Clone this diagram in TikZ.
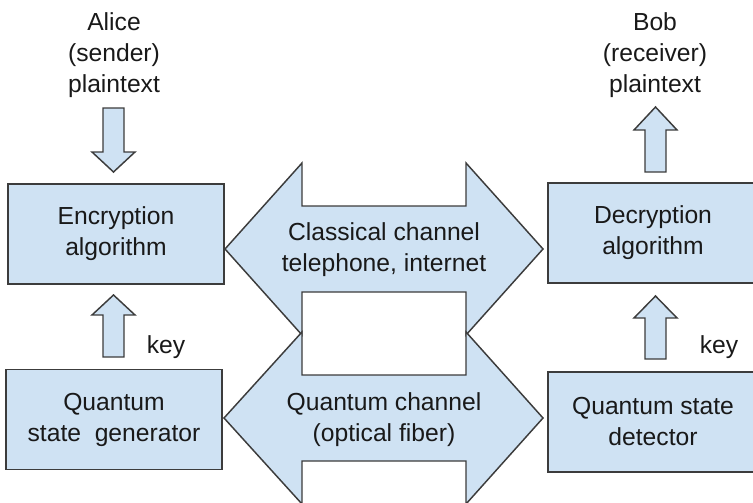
\documentclass[tikz,border=0pt]{standalone}
\usepackage{fontspec}
\setmainfont{Liberation Sans}
\definecolor{boxblue}{HTML}{CFE2F3}
\definecolor{edgegray}{HTML}{3C3C3C}
\tikzset{
  txt/.style={align=center, inner sep=0pt, text=black!90,
    font=\fontsize{18.5}{23.25}\selectfont},
  box/.style={txt, draw=edgegray, fill=boxblue, line width=1.1pt,
    minimum width=162pt, minimum height=75pt},
  blk/.style={draw=edgegray, fill=boxblue, line width=1.1pt, line join=miter}
}
\begin{document}
\begin{tikzpicture}[x=0.75pt, y=-0.75pt]
    \useasboundingbox (0,0) rectangle (753,503);
    % the two channels
    \draw [blk] (225,249) -- (302,163) -- (302,206) -- (466,206) -- (466,163) -- (543,249)
        -- (466,335) -- (466,292) -- (302,292) -- (302,335) -- cycle;
    \draw [blk] (224,418) -- (302,332) -- (302,375) -- (466,375) -- (466,332) -- (543,418)
        -- (466,504) -- (466,461) -- (302,461) -- (302,504) -- cycle;
    \node [txt] (classical) at (384,250) {Classical channel\\telephone, internet};
    \node [txt] (quantum) at (384,420) {Quantum channel\\(optical fiber)};
    % boxes
    \node [box] (enc) at (116,234) {Encryption\\algorithm};
    \node [box] (qgen) at (114,419.5) {Quantum\\state\ \ generator};
    \node [box, minimum width=157.5pt] (dec) at (653,233) {Decryption\\algorithm};
    \node [box, minimum width=157.5pt] (det) at (653,422) {Quantum state\\detector};
    % labels
    \node [txt] (alice) at (114,55) {Alice\\(sender)\\plaintext};
    \node [txt] (bob) at (655,55) {Bob\\(receiver)\\plaintext};
    \node [txt, anchor=base] (keyA) at (166,353) {key};
    \node [txt, anchor=base] (keyB) at (719,353) {key};
    % small arrows
    \draw [blk] (103,108) -- (124,108) -- (124,152) -- (135,152) -- (113.5,172)
        -- (92,152) -- (103,152) -- cycle;
    \draw [blk] (103,357) -- (124,357) -- (124,315) -- (135,315) -- (113.5,295)
        -- (92,315) -- (103,315) -- cycle;
    \draw [blk] (645,172) -- (666,172) -- (666,130) -- (677,130) -- (655.5,107)
        -- (634,130) -- (645,130) -- cycle;
    \draw [blk] (645,359) -- (666,359) -- (666,318) -- (677,318) -- (655.5,296)
        -- (634,318) -- (645,318) -- cycle;
\end{tikzpicture}
\end{document}
